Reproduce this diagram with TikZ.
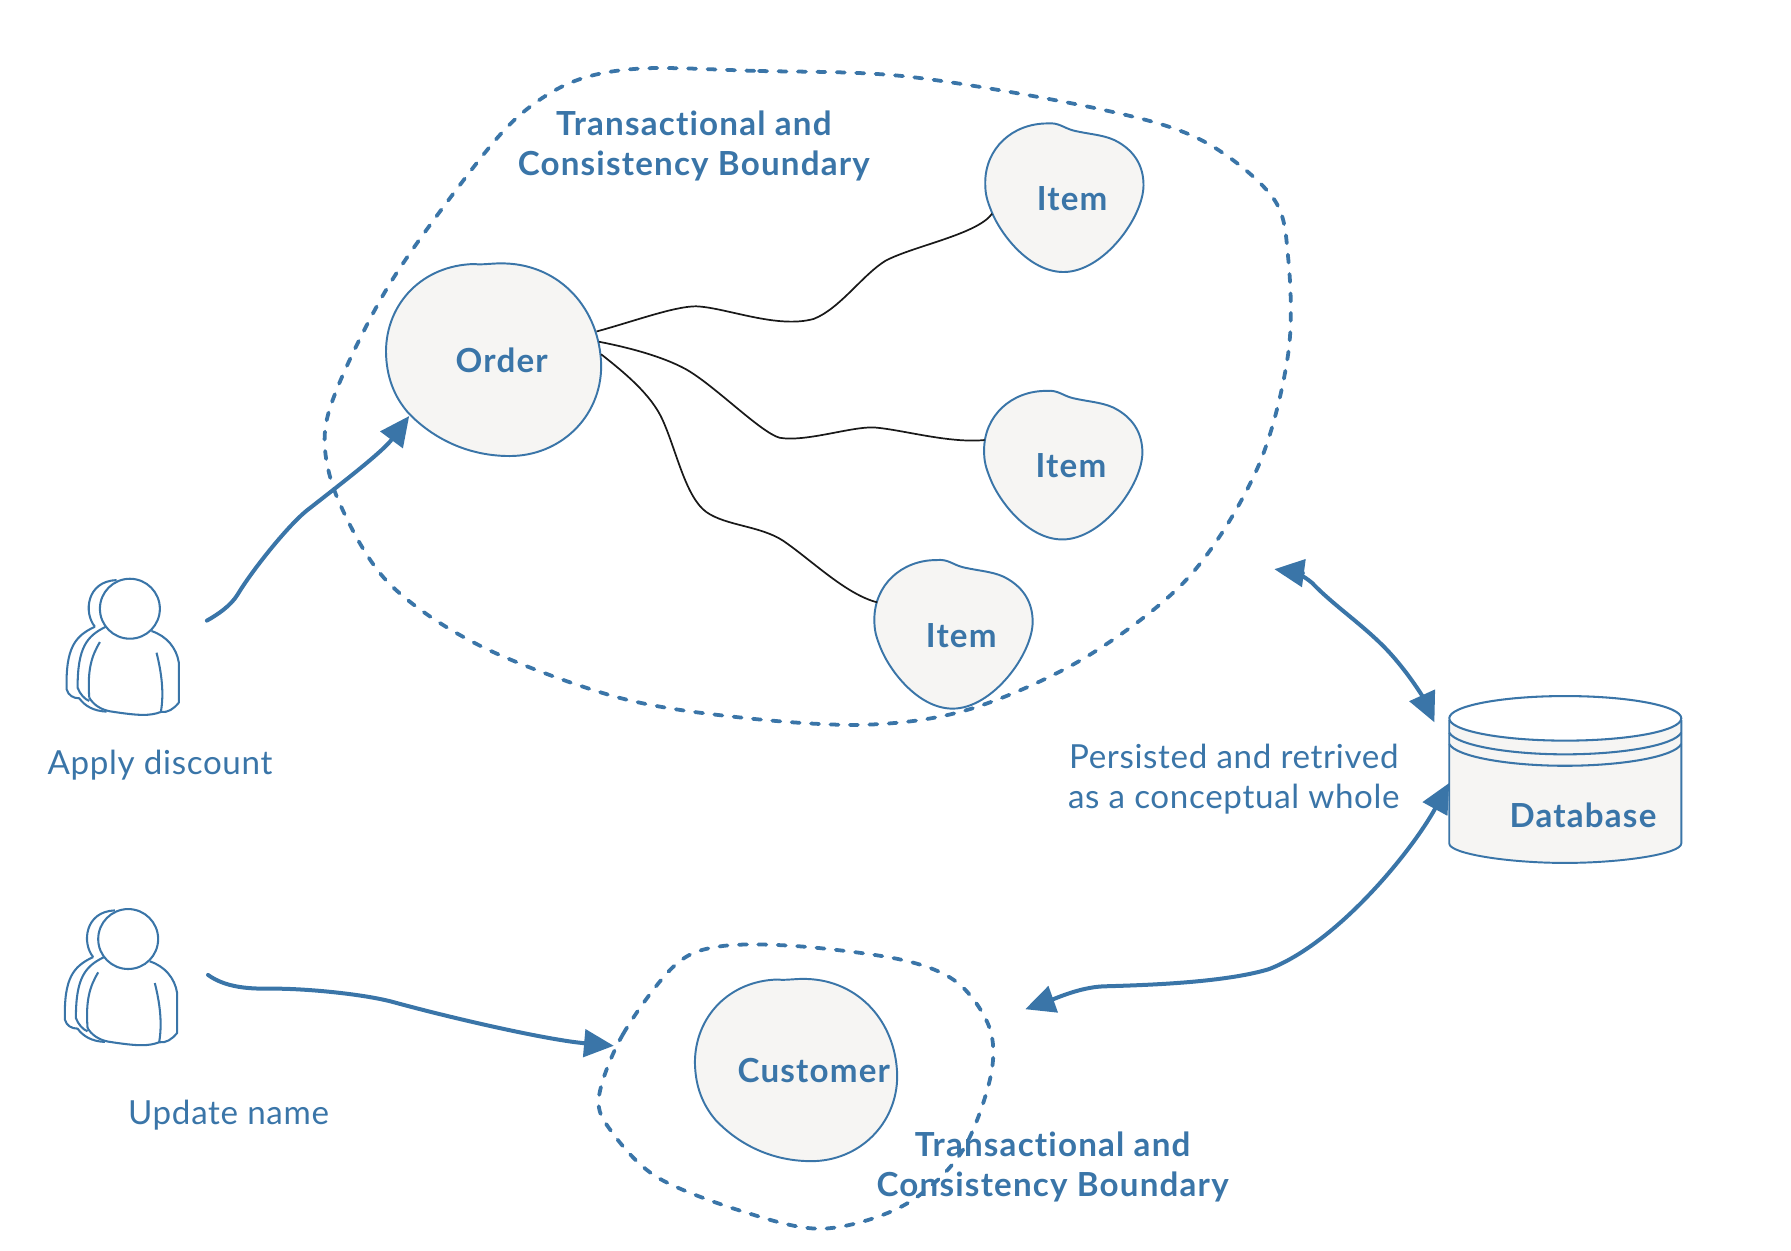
\documentclass[tikz,border=0pt]{standalone}
\usepackage{fontspec}
\setmainfont{Lato}
\newfontfamily\strongface[LetterSpace=3.6,Ligatures=NoCommon,UprightFont=* Bold]{Lato}
\newfontfamily\plainface[LetterSpace=2,Ligatures=NoCommon]{Lato}
\usetikzlibrary{arrows.meta}
\definecolor{bl}{HTML}{3A75A8}
\definecolor{blobfill}{HTML}{F6F5F3}
\tikzset{
  blob/.style={draw=bl,fill=blobfill,line width=1.7pt},
  linkline/.style={draw=black!90,line width=1.5pt},
  flow/.style={draw=bl,line width=3.5pt,line cap=round},
  bound/.style={draw=bl,line width=3.3pt,line cap=round,dash pattern=on 7pt off 10pt},
  outline/.style={draw=bl,line width=1.8pt,line join=round},
  strong/.style={text=bl,font=\strongface\fontsize{29}{35}\selectfont,align=center},
  plain/.style={text=bl,font=\plainface\fontsize{29}{35}\selectfont,align=center},
  tip/.style={-{Triangle[length=26pt,width=24pt]}},
  tips/.style={{Triangle[length=26pt,width=24pt]}-{Triangle[length=26pt,width=24pt]}},
}
\newcommand{\itemshape}[2]{%
  \draw[blob,shift={(#1,#2)}] (861.5,160) .. controls (861.5,130) and (885,108) .. (916,108) .. controls (926,107) and (930,112) .. (939,114.3) .. controls (955,118) and (968,118) .. (979,125) .. controls (992,133) and (1000,145) .. (1000,162) .. controls (1000,190) and (965,238) .. (930,238) .. controls (900,238) and (875,205) .. (867,185) .. controls (863,175) and (861.5,170) .. (861.5,160) -- cycle;}
\newcommand{\roundshape}{(337.7,307.5) .. controls (338,265) and (370,232) .. (415,231) .. controls (422,232) and (432,230) .. (442,230.5) .. controls (490,232) and (525,270) .. (526,320) .. controls (526,365) and (490,399) .. (446,399) .. controls (405,399) and (375,380) .. (357,361) .. controls (345,347) and (338,330) .. (337.7,307.5) -- cycle}
\newcommand{\person}[2]{%
  \begin{scope}[shift={(#1,#2)},x=0.2914pt,y=-0.2914pt]
  \draw[outline] (285,322) .. controls (250,280) and (260,185) .. (350,182);
  \draw[outline] (390,268) circle[radius=90];
  \draw[outline] (285,322) .. controls (225,350) and (197,385) .. (200,510) .. controls (205,528) and (220,537) .. (238,537) .. controls (255,560) and (280,575) .. (320,577);
  \draw[outline] (318,322) .. controls (260,350) and (233,385) .. (233,505) .. controls (240,525) and (255,540) .. (268,545);
  \draw[outline] (455,335) .. controls (500,350) and (530,385) .. (537,430) -- (537,550) .. controls (520,570) and (505,580) .. (483,578) .. controls (450,590) and (420,590) .. (330,576) .. controls (300,570) and (280,555) .. (268,535);
  \draw[outline] (300,368) .. controls (275,410) and (262,450) .. (268,535);
  \draw[outline] (470,400) .. controls (485,460) and (493,520) .. (483,578);
  \end{scope}}
\begin{document}
\begin{tikzpicture}[x=1pt,y=-1pt]
\useasboundingbox (0,0) rectangle (1567,1094);
% boundaries
\draw[bound] plot[smooth cycle,tension=0.55] coordinates {(794,67) (660,62) (560,60) (500,72) (450,105) (400,165) (340,250) (297,335) (284,385) (297,440) (340,510) (420,565) (540,610) (650,628) (760,634) (850,620) (950,575) (1040,505) (1100,410) (1127,310) (1127,225) (1113,172) (1050,122) (960,95)};
\draw[bound] plot[smooth cycle,tension=0.55] coordinates {(524,960) (545,905) (590,845) (630,828) (700,828) (790,840) (838,860) (866,900) (866,945) (840,1010) (790,1055) (720,1075) (650,1060) (575,1030) (535,990)};
% blobs
\draw[blob] \roundshape;
\draw[blob,shift={(608,857)},xscale=0.94,yscale=0.946,shift={(-337.7,-231)}] \roundshape;
\itemshape{0.5}{0}
\itemshape{-0.5}{234}
\itemshape{-96.5}{382}
% anchors
\coordinate (orderA) at (522,290);
\coordinate (orderB) at (524,299);
\coordinate (orderC) at (526,310);
\coordinate (itemA) at (868,187);
\coordinate (itemB) at (861.5,385);
\coordinate (itemC) at (767.5,527);
\coordinate (userA) at (181,543);
\coordinate (userB) at (182,853);
\coordinate (orderIn) at (358,364);
\coordinate (custIn) at (537,915);
\coordinate (boundOne) at (1115,498);
\coordinate (dbA) at (1255,632);
\coordinate (dbB) at (1268,685);
\coordinate (boundTwo) at (897,883);
% black links
\draw[linkline] (orderA) .. controls (555,281) and (590,268) .. (609,268) .. controls (635,269) and (680,288) .. (712,279) .. controls (735,270) and (755,240) .. (775,228) .. controls (800,215) and (855,205) .. (itemA);
\draw[linkline] (orderB) .. controls (550,304) and (580,312) .. (600,323) .. controls (625,337) and (665,378) .. (682,383) .. controls (705,387) and (745,373) .. (765,374) .. controls (790,376) and (830,388) .. (itemB);
\draw[linkline] (orderC) .. controls (545,325) and (570,345) .. (580,368) .. controls (592,395) and (600,435) .. (618,448) .. controls (635,460) and (665,460) .. (685,473) .. controls (710,490) and (740,520) .. (itemC);
% flows
\draw[flow,tip] (userA) .. controls (190,538) and (202,530) .. (208,520) .. controls (220,500) and (250,462) .. (268,447) .. controls (300,422) and (335,395) .. (orderIn);
\draw[flow,tip] (userB) .. controls (200,866) and (225,865) .. (240,865) .. controls (270,865) and (320,870) .. (345,877) .. controls (400,892) and (480,910) .. (custIn);
\draw[flow,tips] (boundOne) .. controls (1130,500) and (1140,503) .. (1148,510) .. controls (1165,528) and (1190,545) .. (1210,565) .. controls (1230,585) and (1245,610) .. (dbA);
\draw[flow,tips] (dbB) .. controls (1235,745) and (1170,825) .. (1110,848) .. controls (1070,860) and (1000,862) .. (965,863) .. controls (945,864) and (925,873) .. (boundTwo);
% persons
\person{0}{454.5}
\person{-1.5}{743.5}
% database
\draw[blob] (1268,631) -- (1268,738) .. controls (1268,747) and (1320,755) .. (1369,755) .. controls (1420,755) and (1471,747) .. (1471,738) -- (1471,631) -- cycle;
\draw[outline] (1268,641) .. controls (1274,652) and (1320,660) .. (1369,660) .. controls (1420,660) and (1465,652) .. (1471,641);
\draw[outline] (1268,651) .. controls (1274,662) and (1320,670) .. (1369,670) .. controls (1420,670) and (1465,662) .. (1471,651);
\draw[outline,fill=white] (1369.5,628.5) ellipse[x radius=101.5,y radius=19.5];
% labels
\node[strong] (tb1) at (607,128) {Transactional and\\Consistency Boundary};
\node[strong] (tb2) at (921,1021) {Transactional and\\Consistency Boundary};
\node[strong] (lorder) at (439,315) {Order};
\node[strong] (li1) at (938,174) {Item};
\node[strong] (li2) at (937,407.5) {Item};
\node[strong] (li3) at (841,556) {Item};
\node[strong] (lcust) at (712,936.5) {Customer};
\node[strong] (ldb) at (1385,713) {Database};
\node[plain] (lapply) at (140,669) {Apply discount};
\node[plain] (lupdate) at (200,976) {Update name};
\node[plain] (lpersist) at (1079.5,682) {Persisted and retrived\\as a conceptual whole};
\end{tikzpicture}
\end{document}
